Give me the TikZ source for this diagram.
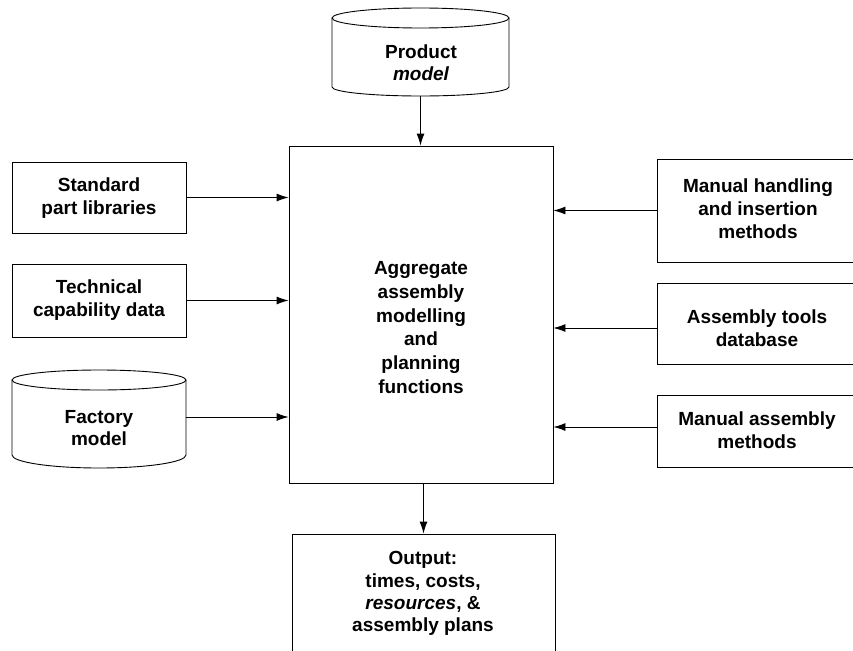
\documentclass[tikz,border=0pt]{standalone}
\usepackage{fontspec}
\setmainfont{Liberation Sans}
\usetikzlibrary{arrows.meta,calc}

\tikzset{
  box/.style={draw, line width=0.9pt, inner sep=0pt},
  hold/.style={inner sep=0pt},
  lbl/.style={font=\fontsize{19}{23}\selectfont\bfseries, align=center, inner sep=0pt},
  flow/.style={line width=0.9pt, -{Latex[length=12pt,width=8pt]}},
  drum/.style={line width=0.9pt},
}

\begin{document}
\begin{tikzpicture}[x=1pt,y=-1pt]
  \useasboundingbox (0,0) rectangle (853,650);
  \clip (0,0) rectangle (853,650);

  % central process box
  \node[box, minimum width=264pt, minimum height=337pt] (core) at (421,314.5) {};
  \node[lbl, font=\fontsize{19}{23.8}\selectfont\bfseries] (coretxt) at (421,327.5)
    {Aggregate\\assembly\\modelling\\and\\planning\\functions};

  % product model store (cylinder)
  \node[hold, minimum width=177pt, minimum height=88pt] (prod) at (420.5,52) {};
  \draw[drum] (420.5,18) ellipse [x radius=88.5, y radius=10];
  \draw[drum] (332,18) -- (332,87) arc[start angle=180, end angle=0, x radius=88.5, y radius=9] -- (509,18);
  \node[lbl, font=\fontsize{19}{22}\selectfont\bfseries] (prodtxt) at (421,63) {Product\\\itshape model};

  % left inputs
  \node[box, minimum width=174pt, minimum height=71pt] (std) at (99,197.5) {};
  \node[lbl] (stdtxt) at (99,198) {Standard\\part libraries};

  \node[box, minimum width=174pt, minimum height=73pt] (tech) at (99,300.5) {};
  \node[lbl] (techtxt) at (99,300) {Technical\\capability data};

  % factory model store (cylinder)
  \node[hold, minimum width=174pt, minimum height=98pt] (fact) at (99,419) {};
  \draw[drum] (99,380) ellipse [x radius=87, y radius=10];
  \draw[drum] (12,380) -- (12,455) arc[start angle=180, end angle=0, x radius=87, y radius=13] -- (186,380);
  \node[lbl, font=\fontsize{19}{22}\selectfont\bfseries] (facttxt) at (99,428) {Factory\\model};

  % right inputs
  \node[box, minimum width=200pt, minimum height=103pt] (hand) at (757,210.5) {};
  \node[lbl] (handtxt) at (758,209) {Manual handling\\and insertion\\methods};

  \node[box, minimum width=200pt, minimum height=81pt] (tools) at (757,323.5) {};
  \node[lbl] (toolstxt) at (757,328.5) {Assembly tools\\database};

  \node[box, minimum width=200pt, minimum height=72pt] (manual) at (757,431) {};
  \node[lbl] (manualtxt) at (757,430) {Manual assembly\\methods};

  % output box
  \node[box, minimum width=263pt, minimum height=136pt] (out) at (423.5,602) {};
  \node[lbl, font=\fontsize{19}{22.3}\selectfont\bfseries] (outtxt) at (423,593.5)
    {Output:\\times, costs,\\{\itshape resources}, \&\\assembly plans};

  % connectors
  \draw[flow] (prod.south) -- (prod.south |- core.north);
  \draw[flow] (std.east) -- (std.east -| core.west);
  \draw[flow] (tech.east) -- (tech.east -| core.west);
  \draw[flow] ($(fact.east)+(0,-2)$) -- ($(fact.east -| core.west)+(0,-2)$);
  \draw[flow] (hand.west) -- (hand.west -| core.east);
  \draw[flow] ($(tools.west)+(0,4.5)$) -- ($(tools.west -| core.east)+(0,4.5)$);
  \draw[flow] ($(manual.west)+(0,-4)$) -- ($(manual.west -| core.east)+(0,-4)$);
  \draw[flow] (core.south -| out.north) -- (out.north);
\end{tikzpicture}
\end{document}
